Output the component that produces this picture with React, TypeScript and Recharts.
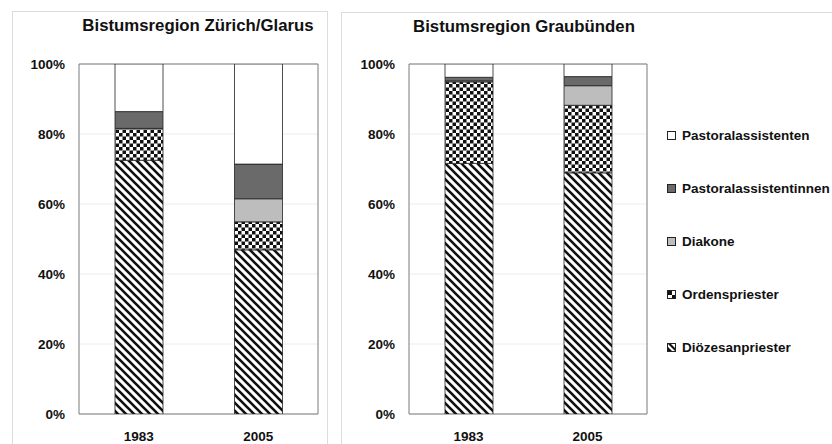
import React from 'react';
import { BarChart, Bar, XAxis, YAxis, CartesianGrid, ReferenceArea } from 'recharts';

// ---- data ----
const categories = ['1983', '2005'];

// Bistumsregion Zürich/Glarus (percent)
const zhDioezesan = [72.5, 46.9];
const zhOrden = [9.1, 8.0];
const zhDiakone = [0, 6.6];
const zhAssistentinnen = [4.8, 9.9];
const zhAssistenten = [13.6, 28.6];

// Bistumsregion Graubünden (percent)
const grDioezesan = [71.6, 68.9];
const grOrden = [23.3, 19.3];
const grDiakone = [0.3, 5.6];
const grAssistentinnen = [1.0, 2.6];
const grAssistenten = [3.8, 3.6];

const yTicks = [0, 20, 40, 60, 80, 100];

const titles = ['Bistumsregion Zürich/Glarus', 'Bistumsregion Graubünden'];

// stacking order bottom -> top
const series = [
  { key: 'dioezesan', name: 'Diözesanpriester', fill: 'url(#stripes)', icon: 'stripes' },
  { key: 'orden', name: 'Ordenspriester', fill: 'url(#checker)', icon: 'checker' },
  { key: 'diakone', name: 'Diakone', fill: '#bdbdbd', icon: 'solid' },
  { key: 'assistentinnen', name: 'Pastoralassistentinnen', fill: '#6a6a6a', icon: 'solid' },
  { key: 'assistenten', name: 'Pastoralassistenten', fill: '#ffffff', icon: 'solid' },
];

const buildData = (d: number[], o: number[], di: number[], ai: number[], a: number[]) =>
  categories.map((c, i) => ({
    year: c,
    dioezesan: d[i],
    orden: o[i],
    diakone: di[i],
    assistentinnen: ai[i],
    assistenten: a[i],
  }));

const zhData = buildData(zhDioezesan, zhOrden, zhDiakone, zhAssistentinnen, zhAssistenten);
const grData = buildData(grDioezesan, grOrden, grDiakone, grAssistentinnen, grAssistenten);

const FONT = '"Liberation Sans", Arial, Helvetica, sans-serif';
const tickStyle = { fontFamily: FONT, fontSize: 13.5, fontWeight: 700, fill: '#111' };

function Panel({ data, width, marginRight }: { data: any[]; width: number; marginRight: number }) {
  return (
    <BarChart
      width={width}
      height={444}
      data={data}
      margin={{ top: 64, right: marginRight, bottom: 0, left: 0 }}
      barSize={48}
    >
      <CartesianGrid vertical={false} stroke="#ececec" />
      <XAxis
        dataKey="year"
        height={30}
        axisLine={false}
        tickLine={false}
        tickSize={6}
        tickMargin={11}
        tick={tickStyle}
      />
      <YAxis
        width={79}
        domain={[0, 100]}
        ticks={yTicks}
        tickFormatter={(v: number) => `${v}%`}
        axisLine={false}
        tickLine={false}
        tickSize={6}
        tickMargin={8}
        tick={tickStyle}
        allowDataOverflow
      />
      {series.map((s) => (
        <Bar
          key={s.key}
          dataKey={s.key}
          name={s.name}
          stackId="a"
          fill={s.fill}
          stroke="#222"
          strokeWidth={0.8}
          isAnimationActive={false}
        />
      ))}
      <ReferenceArea y1={0} y2={100} fill="none" stroke="#7a7a7a" strokeWidth={1} ifOverflow="visible" />
    </BarChart>
  );
}

function LegendIcon({ type, fill }: { type: string; fill: string }) {
  return (
    <svg width={9} height={9} style={{ display: 'block' }}>
      {type === 'solid' && <rect x={0.5} y={0.5} width={8} height={8} fill={fill} stroke="#222" strokeWidth={1} />}
      {type === 'checker' && (
        <g>
          <rect x={0.5} y={0.5} width={8} height={8} fill="#fff" stroke="#222" strokeWidth={1} />
          <rect x={1} y={1} width={4} height={4} fill="#111" />
          <rect x={5} y={5} width={3} height={3} fill="#111" />
        </g>
      )}
      {type === 'stripes' && (
        <g>
          <rect x={0.5} y={0.5} width={8} height={8} fill="#fff" stroke="#222" strokeWidth={1} />
          <path d="M1,1 L8,8 L8,5 L4,1 Z" fill="#111" />
          <path d="M1,4 L5,8 L1,8 Z" fill="#111" />
        </g>
      )}
    </svg>
  );
}

export default function App() {
  const legendItems = [...series].reverse();
  const legendY = [135, 188, 241, 294, 347];
  return (
    <div style={{ position: 'absolute', left: 0, top: 0, width: 832, height: 444, background: '#fff', overflow: 'hidden', fontFamily: FONT }}>
      <svg width={0} height={0} style={{ position: 'absolute' }}>
        <defs>
          <pattern id="stripes" patternUnits="userSpaceOnUse" width={8} height={8}>
            <rect width={8} height={8} fill="#fff" />
            <path d="M-2,-2 L10,10 M-2,6 L2,10 M6,-2 L10,2" stroke="#111" strokeWidth={2.6} />
          </pattern>
          <pattern id="checker" patternUnits="userSpaceOnUse" width={7} height={7}>
            <rect width={7} height={7} fill="#fff" />
            <rect x={0} y={0} width={3.5} height={3.5} fill="#111" />
            <rect x={3.5} y={3.5} width={3.5} height={3.5} fill="#111" />
          </pattern>
        </defs>
      </svg>

      {/* frames */}
      <div style={{ position: 'absolute', left: 12, top: 11, width: 314, height: 450, border: '1px solid #dcdcdc' }} />
      <div style={{ position: 'absolute', left: 341, top: 12, width: 520, height: 450, border: '1px solid #dcdcdc' }} />

      <div style={{ position: 'absolute', left: 0, top: 0 }}>
        <Panel data={zhData} width={330} marginRight={12} />
      </div>
      <div style={{ position: 'absolute', left: 330, top: 0 }}>
        <Panel data={grData} width={502} marginRight={185} />
      </div>

      {/* titles */}
      <div style={{ position: 'absolute', left: 198, top: 17.8, transform: 'translateX(-50%)', whiteSpace: 'nowrap', fontSize: 16.8, lineHeight: '16.8px', fontWeight: 700, color: '#111' }}>
        {titles[0]}
      </div>
      <div style={{ position: 'absolute', left: 524, top: 19.2, transform: 'translateX(-50%)', whiteSpace: 'nowrap', fontSize: 16.8, lineHeight: '16.8px', fontWeight: 700, color: '#111' }}>
        {titles[1]}
      </div>

      {/* legend */}
      {legendItems.map((s, i) => (
        <div key={s.key} style={{ position: 'absolute', left: 667, top: legendY[i] - 8, height: 16, display: 'flex', alignItems: 'center', whiteSpace: 'nowrap' }}>
          <LegendIcon type={s.icon} fill={s.fill} />
          <span style={{ marginLeft: 6, fontSize: 13.5, fontWeight: 700, color: '#111' }}>{s.name}</span>
        </div>
      ))}
    </div>
  );
}
